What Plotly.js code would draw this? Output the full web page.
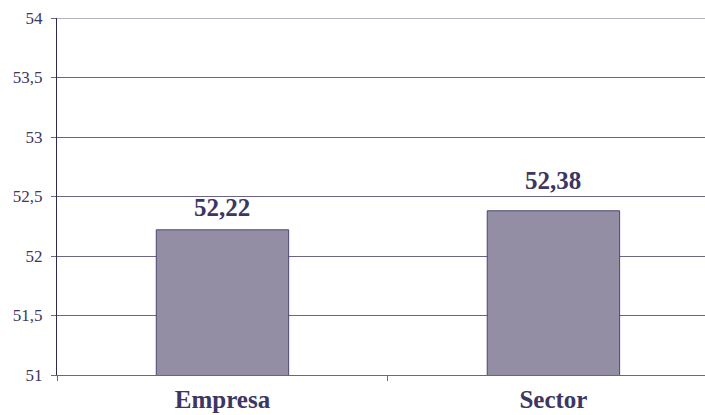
<!DOCTYPE html>
<html>
<head>
<meta charset="utf-8">
<script src="https://cdn.plot.ly/plotly-3.0.1.min.js"></script>
<style>html,body{margin:0;padding:0;background:#fff;}#chart{width:705px;height:415px;}</style>
</head>
<body>
<div id="chart"></div>
<script>
var categories = ["Empresa", "Sector"];
var values = [52.22, 52.38];
var valueLabels = ["52,22", "52,38"];
var tickVals = [51, 51.5, 52, 52.5, 53, 53.5, 54];

var textColor = "#3b3662";
var serif = "'Liberation Serif', serif";
var gridColor = "#6a6588";
var labelShift = [7, 15];

var trace = {
  type: "bar",
  x: categories,
  y: values,
  width: 0.4,
  marker: {color: "#938ea3", line: {color: "#4b4672", width: 1}},
  hoverinfo: "none"
};

var annotations = categories.map(function (c, i) {
  return {
    x: c, y: values[i], xref: "x", yref: "y",
    text: valueLabels[i], showarrow: false,
    yanchor: "bottom", yshift: labelShift[i],
    font: {family: serif, size: 25, color: textColor, weight: "bold"}
  };
});

var layout = {
  width: 705, height: 415,
  margin: {l: 57, r: 0, t: 18, b: 40},
  paper_bgcolor: "#fff", plot_bgcolor: "#fff",
  separators: ",.",
  showlegend: false,
  font: {family: serif, color: textColor},
  annotations: annotations,
  shapes: [{
    type: "line", xref: "paper", yref: "y",
    x0: 0, x1: 1, y0: tickVals[tickVals.length - 1], y1: tickVals[tickVals.length - 1],
    line: {color: gridColor, width: 1}
  }],
  xaxis: {
    type: "category",
    range: [-0.5, 1.458],
    showline: true, linecolor: gridColor, linewidth: 1,
    ticks: "outside", tickson: "boundaries", ticklen: 5, tickcolor: gridColor,
    ticklabelstandoff: 2,
    tickfont: {family: serif, size: 25, color: textColor, weight: "bold"},
    showgrid: false, zeroline: false
  },
  yaxis: {
    range: [51, 54],
    tickvals: tickVals,
    showline: true, linecolor: "#2f2a50", linewidth: 1,
    ticks: "outside", ticklen: 5, tickcolor: gridColor,
    ticklabelstandoff: 5,
    tickfont: {family: serif, size: 17, color: textColor},
    showgrid: true, gridcolor: gridColor, gridwidth: 1,
    zeroline: false
  }
};

Plotly.newPlot("chart", [trace], layout, {staticPlot: true});
</script>
</body>
</html>
